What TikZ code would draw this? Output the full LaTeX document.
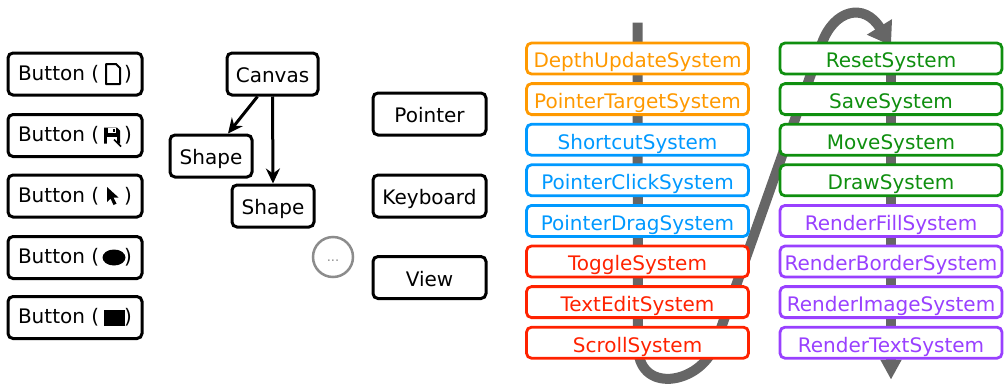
\documentclass[tikz,border=0pt]{standalone}
\usepackage{fontspec}
\setmainfont{DejaVu Sans}
\usetikzlibrary{arrows.meta,backgrounds}
\definecolor{sysorange}{HTML}{FF9900}
\definecolor{sysblue}{HTML}{0099FF}
\definecolor{sysred}{HTML}{FF2200}
\definecolor{sysgreen}{HTML}{0F8F0F}
\definecolor{syspurple}{HTML}{9940FF}
\definecolor{flowgray}{HTML}{666666}
\tikzset{
  entity/.style={draw, line width=3pt, rounded corners=5pt, fill=white, inner sep=0pt, minimum height=42pt},
  word/.style={text height=17.6pt, text depth=0pt},
  sysbox/.style={draw=#1, text=#1, line width=2.8pt, rounded corners=5pt, fill=white, inner sep=0pt,
    minimum width=222pt, minimum height=31pt, text height=18.6pt, text depth=0pt},
  flow/.style={draw=flowgray, line width=10pt},
  link/.style={-{Stealth[length=15pt,width=14pt,inset=5pt]}, line width=3pt}
}
\begin{document}
\begin{tikzpicture}[x=1pt,y=-1pt,font=\fontsize{20}{24}\selectfont]
\useasboundingbox (0,0) rectangle (1004,389);
\def\colL{637.5} \def\colR{891} \def\pitch{40.6}
% buttons
\foreach \i/\y in {1/74,2/135.5,3/196,4/257.5,5/317.5}
  \node[entity, minimum width=134pt] (button\i) at (75,\y) {Button (\hspace{25pt})};
\begin{scope}[shift={(button1.center)}, xshift=38pt]
  \draw[line width=2pt, line join=round] (-7,-10) -- (3,-10) -- (7,-6) -- (7,10) -- (-7,10) -- cycle;
\end{scope}
\begin{scope}[shift={(button2.center)}, xshift=37pt]
  \fill (-8,-8) -- (5,-8) -- (8,-5) -- (8,8) -- (-8,8) -- cycle;
  \fill[white] (-4,-8) rectangle (4,-3);
  \fill (1,-7) rectangle (3,-4);
  \fill[white] (-5,1.5) rectangle (5,8);
  \draw[line width=1.5pt] (2,4) -- (9,11);
\end{scope}
\begin{scope}[shift={(button3.center)}, xshift=37pt]
  \fill (-5,-9) -- (-5,6) -- (-1.5,2.5) -- (1.5,9) -- (4.5,7.7) -- (1.5,1.5) -- (6.5,1.5) -- cycle;
\end{scope}
\fill ([xshift=39pt]button4.center) ellipse [x radius=11.5pt, y radius=8pt];
\fill ([xshift=39pt]button5.center) ++(-10.5,-8) rectangle ++(21,16);
% entities
\node[entity, word, minimum width=91pt] (canvas) at (272.5,74) {Canvas};
\node[entity, word, minimum width=82pt] (shapeA) at (211,156) {Shape};
\node[entity, word, minimum width=82pt] (shapeB) at (273,206) {Shape};
\node[circle, draw=gray!90, line width=2.5pt, minimum size=40pt, inner sep=0pt, text=gray!90,
  text height=9pt, text depth=0pt, font=\fontsize{13}{13}\selectfont] (more) at (333,257) {...};
\draw[link] ([xshift=-15pt]canvas.south) -- ([xshift=17pt]shapeA.north);
\draw[link] (canvas.south) -- (shapeB.north);
\node[entity, word, minimum width=113pt] (pointer) at (429.5,114) {Pointer};
\node[entity, word, minimum width=113pt] (keyboard) at (429.5,196) {Keyboard};
\node[entity, word, minimum width=113pt] (view) at (429.5,277.5) {View};
% systems
\foreach \name/\col [count=\i] in {DepthUpdateSystem/sysorange,PointerTargetSystem/sysorange,
    ShortcutSystem/sysblue,PointerClickSystem/sysblue,PointerDragSystem/sysblue,
    ToggleSystem/sysred,TextEditSystem/sysred,ScrollSystem/sysred}
  \node[sysbox=\col] (left\i) at (\colL,{58.5+\pitch*(\i-1)}) {\name};
\foreach \name/\col [count=\i] in {ResetSystem/sysgreen,SaveSystem/sysgreen,MoveSystem/sysgreen,DrawSystem/sysgreen,
    RenderFillSystem/syspurple,RenderBorderSystem/syspurple,RenderImageSystem/syspurple,RenderTextSystem/syspurple}
  \node[sysbox=\col] (right\i) at (\colR,{58.5+\pitch*(\i-1)}) {\name};
\begin{pgfonlayer}{background}
  \coordinate (flowstart) at ([yshift=19pt]left1.north);
  \draw[flow, -{Triangle[length=22pt,width=28pt]}] (flowstart) -- (638,345)
    .. controls (637,395) and (700,385) .. (715,345) -- (822,43)
    .. controls (834,10) and (864,2) .. ([yshift=-4pt]right1.north);
  \draw[flow, -{Triangle[length=20pt,width=20pt]}] (right1.north) -- ([yshift=-20pt]right8.south);
\end{pgfonlayer}
\end{tikzpicture}
\end{document}
